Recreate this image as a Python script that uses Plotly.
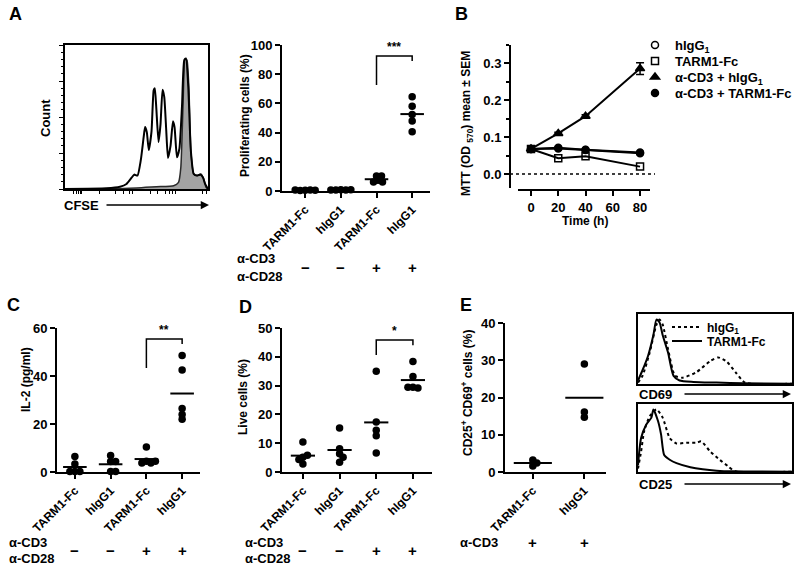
import plotly.graph_objects as go

W, H = 800, 571

# ---------------- data ----------------
# Panel A, CFSE histogram: x in % of axis width, y in % of max count
CFSE_X_STIM = [0, 29, 38.5, 43, 46.7, 48.4, 50.7, 53, 55, 56, 57.2, 58.6, 60.5, 62, 62.8, 63.8, 65.4, 66.8,
               68.2, 69.4, 70.8, 72, 73.8, 75.5, 76.6, 78.3, 80, 81.8, 83.4, 84.6, 86.2, 88, 90, 92.3, 94.6,
               96.5, 98, 100]
CFSE_Y_STIM = [0, 0.5, 1.6, 3.5, 8, 10, 9.3, 20, 36, 43, 39.5, 27, 40, 68.6, 70, 57, 32.6, 45,
               69, 64, 40.7, 21.6, 30, 47, 43, 22, 28, 57, 89.5, 90.7, 71, 26.7, 10.5, 9.3, 10,
               8, 3.5, 0]
CFSE_X_UNST = [0, 31.5, 50, 64, 76, 79.4, 81, 82.5, 84, 85.3, 86.7, 88, 90, 92.3, 95, 97, 98.6, 100]
CFSE_Y_UNST = [0, 0.2, 0.7, 1.6, 2.3, 4.6, 15, 57, 90.7, 89.5, 68.6, 26.7, 10.5, 9.3, 10.5, 7, 1.2, 0]

# Dot-plot groups
GROUPS4 = ["TARM1-Fc", "hIgG1", "TARM1-Fc", "hIgG1"]
STIM4 = ["\u2212", "\u2212", "+", "+"]
PROLIF = [[0.5, 0.6, 0.4, 0.5, 0.6],
          [0.8, 0.6, 0.7, 0.9, 0.7],
          [10.3, 7.3, 6.2, 6.2, 10.3],
          [64.5, 58, 52.4, 48, 40.5]]
IL2 = [[6.5, 3.3, 0.2, 0.2, 0.2],
       [4.4, 4.4, 6.9, 0.2, 0.2],
       [10.4, 4.5, 3.8, 3.8, 4.5],
       [48.5, 42.5, 26.5, 24, 22]]
LIVE = [[10.4, 5.1, 5.8, 2.8, 4.3],
        [15.3, 6.3, 5.1, 3.4, 8.1],
        [35, 17.4, 14.5, 12.6, 6.6],
        [38.4, 33.2, 29.4, 29.2, 29.4]]
GROUPS2 = ["TARM1-Fc", "hIgG1"]
STIM2 = ["+", "+"]
CD25CD69 = [[3.2, 1.6, 2.4], [29, 14.7, 16.1]]

# Panel B, MTT time course
TIME_H = [0, 20, 40, 80]
MTT_HIGG1 = [0.068, 0.071, 0.066, 0.058]
MTT_TARM1 = [0.068, 0.043, 0.048, 0.020]
MTT_CD3_HIGG1 = [0.068, 0.110, 0.157, 0.286]
MTT_CD3_HIGG1_SEM = [0.002, 0.003, 0.004, 0.016]
MTT_CD3_TARM1 = [0.068, 0.069, 0.065, 0.056]

# Panel E histograms: x in % of axis width, y in % of max
CD69_X_TARM = [0, 3, 6.5, 10, 12, 14, 16, 19.5, 23, 27, 36, 51, 68, 100]
CD69_Y_TARM = [5, 20, 40, 70, 92, 88, 70, 45, 12, 5, 3, 2, 1, 0.5]
CD69_X_HIGG = [0, 3, 7.6, 12, 14, 16, 19.5, 24, 29, 38, 47, 52, 57.6, 64, 69.5, 100]
CD69_Y_HIGG = [2, 12, 45, 85, 92, 85, 50, 12, 9, 17, 33, 38, 32, 15, 2, 0.5]
CD25_X_TARM = [0, 2, 5.4, 8.7, 10, 13, 15, 17, 20.6, 25, 34, 42, 51, 62, 100]
CD25_Y_TARM = [10, 50, 70, 80, 92, 75, 55, 25, 18, 13, 7, 4, 2, 1, 0.5]
CD25_X_HIGG = [0, 2, 4, 7.6, 12, 16, 20.6, 25, 31.5, 38, 41, 47, 53, 58.7, 63, 100]
CD25_Y_HIGG = [5, 30, 60, 82, 92, 80, 50, 42, 43, 43, 45, 30, 18, 8, 1, 0.5]

# ---------------- helpers ----------------
FONT = "Liberation Sans, Arial, Helvetica, sans-serif"


def px(x):
    return x / W


def py(y):
    return 1 - y / H


def xdom(a, b):
    return [a / W, b / W]


def ydom(top, bottom):
    return [1 - bottom / H, 1 - top / H]


def bfont(size):
    return dict(size=size, color="black", family=FONT, weight="bold")


AX = dict(showline=True, linecolor="black", linewidth=2, ticks="outside", ticklen=5,
          tickwidth=1.5, tickcolor="black", showgrid=False, zeroline=False, automargin=False,
          tickfont=bfont(13))

fig = go.Figure()
annotations = []
shapes = []
legends = {}


def txt(x, y, s, size=13, angle=0, xanchor="center", yanchor="middle", xref="paper", yref="paper"):
    annotations.append(dict(x=x, y=y, text=s, showarrow=False, xref=xref, yref=yref,
                            xanchor=xanchor, yanchor=yanchor, textangle=angle, font=bfont(size)))


def arrow(x0, x1, y):
    annotations.append(dict(x=px(x1), y=py(y), xref="paper", yref="paper", text="",
                            showarrow=True, ax=x0 - x1, ay=0, axref="pixel", ayref="pixel",
                            arrowhead=2, arrowsize=1.1, arrowwidth=1.5, arrowcolor="black",
                            standoff=0, startstandoff=0))


def legend_at(key, x_px, y_px, size):
    legends[key] = dict(x=px(x_px), y=py(y_px), xanchor="left", yanchor="middle",
                        bgcolor="rgba(0,0,0,0)", borderwidth=0, font=bfont(size), tracegroupgap=0)


def swarm(values, ypu, xpu, d=4.6):
    placed, offs = [], []
    cands = [0.0]
    for i in range(1, 200):
        cands += [i * 0.5, -i * 0.5]
    for v in values:
        yp = v * ypu
        for c in cands:
            if all((c - a) ** 2 + (yp - b) ** 2 >= d * d for a, b in placed):
                break
        placed.append((c, yp))
        offs.append(c / xpu)
    return offs


def dot_panel(n, values, names, stims, xr, xd_px, yd_px, yr, dtick, half=0.33,
              stim_y=None, sig=None):
    xa, ya = f"x{n}", f"y{n}"
    xpu = (xd_px[1] - xd_px[0]) / (xr[1] - xr[0])
    ypu = (yd_px[1] - yd_px[0]) / (yr[1] - yr[0])
    for i, vals in enumerate(values):
        offs = swarm(vals, ypu, xpu)
        fig.add_trace(go.Scatter(x=[i + o for o in offs], y=vals, mode="markers",
                                 marker=dict(color="black", size=7.5), xaxis=xa, yaxis=ya,
                                 showlegend=False, cliponaxis=False, hoverinfo="y"))
        m = sum(vals) / len(vals)
        fig.add_trace(go.Scatter(x=[i - half, i + half], y=[m, m], mode="lines",
                                 line=dict(color="black", width=2), xaxis=xa, yaxis=ya,
                                 showlegend=False, cliponaxis=False, hoverinfo="skip"))
    fig.update_layout(**{
        f"xaxis{n}": dict(AX, domain=xdom(*xd_px), range=xr, anchor=ya, tickvals=list(range(len(names))),
                          ticktext=names, tickangle=-45, tickfont=bfont(12)),
        f"yaxis{n}": dict(AX, domain=ydom(yd_px[0], yd_px[1]), range=yr, anchor=xa, dtick=dtick),
    })
    for i, s in enumerate(stims):
        txt(i, py(stim_y), s, size=15, xref=xa)
    if sig:
        i0, i1, top, l, r, lab = sig
        shapes.append(dict(type="path", xref=xa, yref=ya,
                           path=f"M {i0},{l} L {i0},{top} L {i1},{top} L {i1},{r}",
                           line=dict(color="black", width=1.5)))
        txt((i0 + i1) / 2, top, lab, size=12, xref=xa, yref=ya, yanchor="bottom")


# ---------------- Panel A: CFSE histogram ----------------
fig.add_trace(go.Scatter(x=CFSE_X_UNST, y=CFSE_Y_UNST, mode="lines", fill="tozeroy",
                         fillcolor="#a3a3a3", line=dict(color="#2a2a2a", width=1.5, shape="spline", smoothing=0.5),
                         xaxis="x", yaxis="y", showlegend=False))
fig.add_trace(go.Scatter(x=CFSE_X_STIM, y=CFSE_Y_STIM, mode="lines",
                         line=dict(color="black", width=2, shape="spline", smoothing=0.5),
                         xaxis="x", yaxis="y", showlegend=False))
BOX = dict(showline=True, linecolor="black", linewidth=2, mirror=True, showgrid=False,
           zeroline=False, automargin=False)
fig.update_layout(
    xaxis=dict(BOX, domain=xdom(65, 208), range=[0, 100], anchor="y", ticks="outside", ticklen=3,
               tickwidth=1, tickcolor="black",
               tickvals=[6, 8, 9.5, 10.5, 11.5, 24, 35, 41, 45, 47, 60, 65, 70, 73, 75, 77, 96, 99],
               showticklabels=False),
    yaxis=dict(BOX, domain=ydom(45, 189), range=[0, 100], anchor="x", ticks="outside", ticklen=4,
               tickwidth=1, tickcolor="black", dtick=25, showticklabels=False,
               minor=dict(ticks="outside", ticklen=2, dtick=5, tickcolor="black", tickwidth=1)),
)
txt(px(15), py(14), "A", size=18)
txt(px(45), py(118), "Count", size=13, angle=-90)
txt(px(81), py(205), "CFSE", size=13)
arrow(105, 209, 205)

# ---------------- Panel A: proliferation dot plot ----------------
dot_panel(2, PROLIF, GROUPS4, STIM4, [-0.65, 3.5], (282, 430), (45, 191), [0, 100], 20,
          stim_y=267, sig=(2, 3, 92.5, 72.6, 89, "***"))
txt(px(245), py(116), "Proliferating cells (%)", size=12, angle=-90)
txt(px(235), py(258), "\u03b1-CD3", xanchor="left")
txt(px(235), py(276), "\u03b1-CD28", xanchor="left")

# ---------------- Panel B ----------------
MK = dict(size=7, color="black", line=dict(color="black", width=1.5))
series = [
    ("hIgG<sub>1</sub>", MTT_HIGG1, dict(MK, symbol="circle-open"), None, "legend", 45),
    ("TARM1-Fc", MTT_TARM1, dict(MK, symbol="square-open"), None, "legend3", 61),
    ("\u03b1-CD3 + hIgG<sub>1</sub>", MTT_CD3_HIGG1, dict(MK, symbol="triangle-up", size=8),
     MTT_CD3_HIGG1_SEM, "legend4", 77),
    ("\u03b1-CD3 + TARM1-Fc", MTT_CD3_TARM1, dict(MK, symbol="circle"), None, "legend5", 93),
]
for name, vals, mk, err, lg, ly in series:
    tr = dict(x=TIME_H, y=vals, mode="lines+markers", line=dict(color="black", width=2),
              marker=mk, xaxis="x3", yaxis="y3", showlegend=False, cliponaxis=False)
    if err:
        tr["error_y"] = dict(type="data", array=err, width=4, thickness=1.5, color="black")
    fig.add_trace(go.Scatter(**tr))
for name, vals, mk, err, lg, ly in series:
    fig.add_trace(go.Scatter(x=[None], y=[None], mode="markers", marker=mk, name=name,
                             xaxis="x3", yaxis="y3", showlegend=True, legend=lg))
    legend_at(lg, 635, ly, 13)
fig.update_layout(
    xaxis3=dict(AX, domain=xdom(518, 650), range=[-9.54, 87.3], anchor="free", position=py(190),
                tickvals=[0, 20, 40, 60, 80]),
    yaxis3=dict(AX, domain=ydom(45, 188), range=[-0.038, 0.35], anchor="free", position=px(510),
                tickvals=[0, 0.1, 0.2, 0.3], tickformat=".1f",
                minor=dict(ticks="outside", ticklen=3, tickwidth=1.5, tickcolor="black",
                           tickvals=[0.05, 0.15, 0.25, 0.35])),
)
shapes.append(dict(type="line", xref="paper", yref="y3", x0=px(510), x1=px(655), y0=0, y1=0,
                   line=dict(color="black", width=1.5, dash="dot")))
txt(px(461), py(14), "B", size=18)
txt(px(467), py(124), "MTT (OD <sub>570</sub>) mean \u00b1 SEM", size=12, angle=-90)
txt(px(585), py(221), "Time (h)", size=12)

# ---------------- Panel C ----------------
dot_panel(4, IL2, GROUPS4, STIM4, [-0.5, 3.5], (57, 200), (328, 472), [0, 60], 20,
          stim_y=550, sig=(2, 3, 55.4, 43.3, 53.3, "**"))
txt(px(13), py(305), "C", size=18)
txt(px(26), py(380), "IL-2 (pg/ml)", size=12, angle=-90)
txt(px(7), py(542), "\u03b1-CD3", xanchor="left")
txt(px(7), py(558), "\u03b1-CD28", xanchor="left")

# ---------------- Panel D ----------------
dot_panel(5, LIVE, GROUPS4, STIM4, [-0.57, 3.52], (282, 432), (328, 472), [0, 50], 10,
          stim_y=550, sig=(2, 3, 45.8, 40.6, 44, "*"))
txt(px(245), py(307), "D", size=18)
txt(px(243), py(397), "Live cells (%)", size=12, angle=-90)
txt(px(243), py(542), "\u03b1-CD3", xanchor="left")
txt(px(243), py(558), "\u03b1-CD28", xanchor="left")

# ---------------- Panel E dot plot ----------------
dot_panel(6, CD25CD69, GROUPS2, STIM2, [-0.54, 1.42], (505, 606), (323, 472), [0, 40], 10,
          half=0.37, stim_y=542)
txt(px(466), py(305), "E", size=18)
txt(px(467), py(393), "CD25<sup>+</sup> CD69<sup>+</sup> cells (%)", size=12, angle=-90)
txt(px(458), py(542), "\u03b1-CD3", xanchor="left")

# ---------------- Panel E histograms ----------------
hist_sets = [
    (7, CD69_X_HIGG, CD69_Y_HIGG, CD69_X_TARM, CD69_Y_TARM, True),
    (8, CD25_X_HIGG, CD25_Y_HIGG, CD25_X_TARM, CD25_Y_TARM, False),
]
for n, xh, yh, xt, yt, leg in hist_sets:
    fig.add_trace(go.Scatter(x=xh, y=yh, mode="lines", name="hIgG<sub>1</sub>",
                             line=dict(color="black", width=2, dash="dot", shape="spline", smoothing=0.6),
                             xaxis=f"x{n}", yaxis=f"y{n}", showlegend=leg, legend="legend2"))
    fig.add_trace(go.Scatter(x=xt, y=yt, mode="lines", name="TARM1-Fc",
                             line=dict(color="black", width=2, shape="spline", smoothing=0.6),
                             xaxis=f"x{n}", yaxis=f"y{n}", showlegend=leg, legend="legend6"))
legend_at("legend2", 667, 327, 12)
legend_at("legend6", 667, 341, 12)
fig.update_layout(
    xaxis7=dict(BOX, domain=xdom(638, 792), range=[0, 100], anchor="y7", showticklabels=False, ticks=""),
    yaxis7=dict(BOX, domain=ydom(314, 384), range=[0, 100], anchor="x7", showticklabels=False, ticks=""),
    xaxis8=dict(BOX, domain=xdom(638, 792), range=[0, 100], anchor="y8", showticklabels=False, ticks=""),
    yaxis8=dict(BOX, domain=ydom(404, 472), range=[0, 100], anchor="x8", showticklabels=False, ticks=""),
)
txt(px(637), py(394), "CD69", xanchor="left")
arrow(683, 791, 394)
txt(px(637), py(484), "CD25", xanchor="left")
arrow(683, 791, 484)

fig.update_layout(**legends)
fig.update_layout(
    template="none",
    width=W, height=H, margin=dict(l=0, r=0, t=0, b=0, autoexpand=False),
    paper_bgcolor="white", plot_bgcolor="white",
    font=dict(family=FONT, color="black", weight="bold", size=13),
    annotations=annotations, shapes=shapes,
)
fig.write_html("out.html", config={"displayModeBar": False},
               post_script="document.body.style.margin='0px';")
